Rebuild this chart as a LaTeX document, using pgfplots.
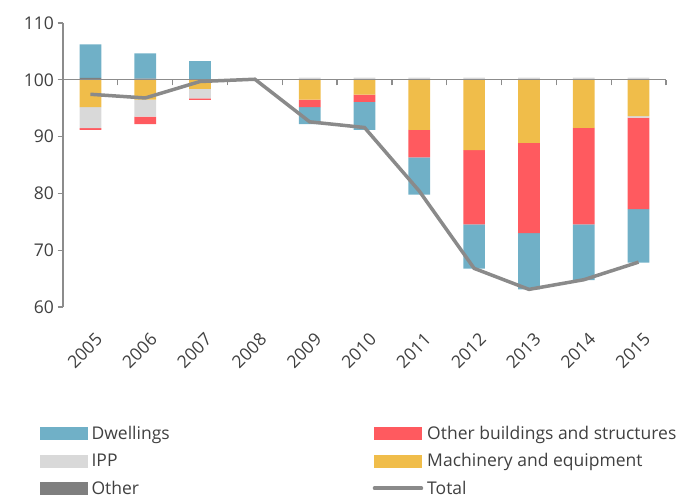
\documentclass[border=0pt]{standalone}
\usepackage{pgfplots}
\pgfplotsset{compat=1.18}
\usepackage{fontspec}
\setmainfont{Open Sans}
\definecolor{dwell}{HTML}{70B0C7}
\definecolor{obuild}{HTML}{FF5A5F}
\definecolor{mach}{HTML}{F0BD4A}
\definecolor{ipp}{HTML}{D9D9D9}
\definecolor{othr}{HTML}{7F7F7F}
\definecolor{totalc}{HTML}{8A8A8A}
\definecolor{axisgray}{HTML}{8C8C8C}
\definecolor{textgray}{HTML}{404040}
\newcommand{\fs}{\fontsize{17.5}{20}\selectfont}
\pgfplotsset{
  base/.style={scale only axis, width=603pt, height=284pt,
    xmin=2004.5, xmax=2015.5, ymin=-40, ymax=10,
    at={(0pt,0pt)}, anchor=south west},
}
\begin{document}
\begin{tikzpicture}
\useasboundingbox (-63pt,-190pt) rectangle (620pt,307pt);
% negative contributions (below 100)
\begin{axis}[base, ybar stacked, bar width=21.7pt,
  axis y line=none, axis x line*=bottom, x axis line style={draw=none},
  xtick={2005,2006,2007,2008,2009,2010,2011,2012,2013,2014,2015},
  xticklabels={2005,2006,2007,2008,2009,2010,2011,2012,2013,2014,2015},
  major tick length=0pt,
  xticklabel style={xshift=11pt, yshift=-27pt, rotate=45, anchor=east, font=\fs, text=textgray}]
\addplot[fill=mach, draw=none] coordinates {(2005,-4.8) (2006,-3.5) (2007,-1.6) (2008,0) (2009,-3.5) (2010,-2.6) (2011,-8.8) (2012,-12.4) (2013,-11.1) (2014,-8.45) (2015,-6.4)};
\addplot[fill=ipp, draw=none] coordinates {(2005,-3.7) (2006,-3.0) (2007,-1.65) (2008,0) (2009,0) (2010,0) (2011,0) (2012,0) (2013,0) (2014,0) (2015,-0.25)};
\addplot[fill=obuild, draw=none] coordinates {(2005,-0.3) (2006,-1.3) (2007,-0.3) (2008,0) (2009,-1.3) (2010,-1.3) (2011,-4.85) (2012,-13.05) (2013,-15.9) (2014,-17.0) (2015,-16.1)};
\addplot[fill=dwell, draw=none] coordinates {(2005,0) (2006,0) (2007,0) (2008,0) (2009,-3.0) (2010,-4.9) (2011,-6.55) (2012,-7.8) (2013,-9.9) (2014,-9.8) (2015,-9.45)};
\end{axis}
% positive contributions (above 100)
\begin{axis}[base, ybar stacked, bar width=21.7pt, hide axis]
\addplot[fill=othr, draw=none] coordinates {(2005,0.35) (2006,0.2) (2007,0) (2008,0) (2009,0) (2010,0) (2011,0) (2012,0) (2013,0) (2014,0) (2015,0)};
\addplot[fill=ipp, draw=none] coordinates {(2005,0) (2006,0) (2007,0) (2008,0) (2009,0.4) (2010,0.4) (2011,0.4) (2012,0.4) (2013,0.4) (2014,0.4) (2015,0.4)};
\addplot[fill=dwell, draw=none] coordinates {(2005,5.9) (2006,4.45) (2007,3.3) (2008,0) (2009,0) (2010,0) (2011,0) (2012,0) (2013,0) (2014,0) (2015,0)};
\end{axis}
% axes, total line and legend
\begin{axis}[base,
  axis y line*=left, axis x line*=middle,
  ytick={-40,-30,-20,-10,0,10}, yticklabels={60,70,80,90,100,110},
  xtick={2005.5,2006.5,2007.5,2008.5,2009.5,2010.5,2011.5,2012.5,2013.5,2014.5,2015.5},
  xticklabels={},
  tick align=outside, major tick length=5.5pt,
  axis line style={draw=axisgray, line width=1.3pt, -},
  tick style={draw=axisgray, line width=1.3pt},
  yticklabel style={font=\fs, text=textgray},
  legend columns=2,
  legend style={at={(axis description cs:0,0)}, anchor=north west,
    xshift=-26pt, yshift=-115pt, draw=none, fill=none,
    font=\fs, text=textgray, row sep=8.5pt,
    /tikz/every even column/.append style={column sep=201pt},
    /tikz/every odd column/.append style={column sep=2pt}},
  legend cell align=left]
\addlegendimage{legend image code/.code={\fill[dwell] (0pt,-6pt) rectangle (47pt,6pt);}}
\addlegendentry{Dwellings}
\addlegendimage{legend image code/.code={\fill[obuild] (0pt,-6pt) rectangle (47pt,6pt);}}
\addlegendentry{Other buildings and structures}
\addlegendimage{legend image code/.code={\fill[ipp] (0pt,-6pt) rectangle (47pt,6pt);}}
\addlegendentry{IPP}
\addlegendimage{legend image code/.code={\fill[mach] (0pt,-6pt) rectangle (47pt,6pt);}}
\addlegendentry{Machinery and equipment}
\addlegendimage{legend image code/.code={\fill[othr] (0pt,-6pt) rectangle (47pt,6pt);}}
\addlegendentry{Other}
\addplot[draw=totalc, line width=3.5pt, no marks, y filter/.expression={y-100},
  legend image code/.code={\draw[totalc, line width=3.5pt, line cap=round] (0pt,0pt) -- (47pt,0pt);}]
  coordinates {(2005,97.45) (2006,96.8) (2007,99.7) (2008,100.1) (2009,92.6) (2010,91.6) (2011,80.4) (2012,66.8) (2013,63.1) (2014,64.8) (2015,67.9)};
\addlegendentry{Total}
\end{axis}
\end{tikzpicture}
\end{document}
